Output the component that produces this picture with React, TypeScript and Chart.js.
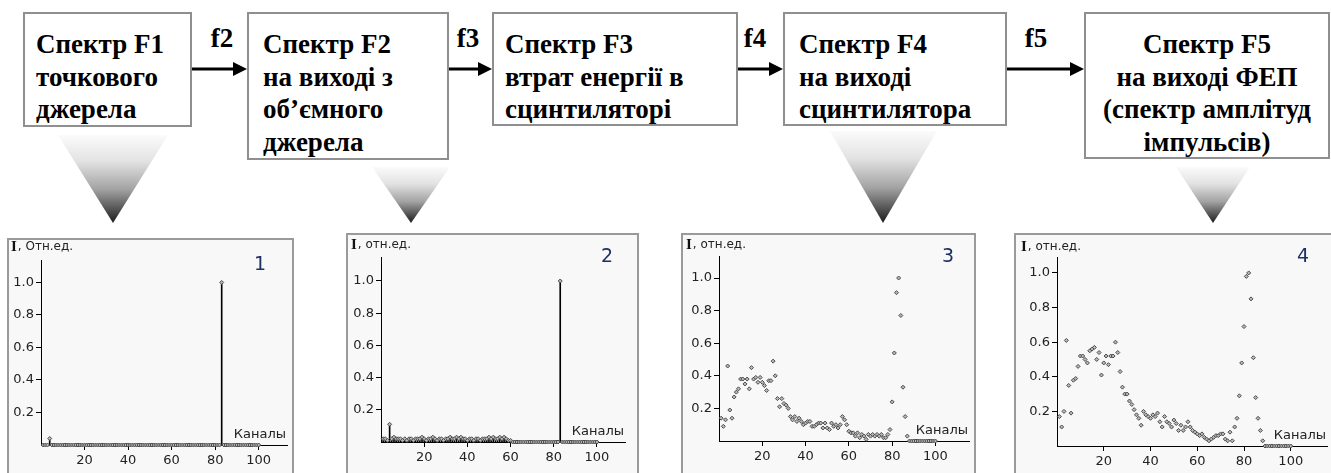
import React, { useEffect, useRef } from 'react';
import { Chart, registerables } from 'chart.js';

Chart.register(...registerables);

// ---------- DATA ----------
const channels = [
  1, 2, 3, 4, 5, 6, 7, 8, 9, 10,
  11, 12, 13, 14, 15, 16, 17, 18, 19, 20,
  21, 22, 23, 24, 25, 26, 27, 28, 29, 30,
  31, 32, 33, 34, 35, 36, 37, 38, 39, 40,
  41, 42, 43, 44, 45, 46, 47, 48, 49, 50,
  51, 52, 53, 54, 55, 56, 57, 58, 59, 60,
  61, 62, 63, 64, 65, 66, 67, 68, 69, 70,
  71, 72, 73, 74, 75, 76, 77, 78, 79, 80,
  81, 82, 83, 84, 85, 86, 87, 88, 89, 90,
  91, 92, 93, 94, 95, 96, 97, 98, 99, 100,
];

// Spectrum 1: point source
const spectrum1 = [
  0, 0, 0, 0.04, 0, 0, 0, 0, 0, 0,
  0, 0, 0, 0, 0, 0, 0, 0, 0, 0,
  0, 0, 0, 0, 0, 0, 0, 0, 0, 0,
  0, 0, 0, 0, 0, 0, 0, 0, 0, 0,
  0, 0, 0, 0, 0, 0, 0, 0, 0, 0,
  0, 0, 0, 0, 0, 0, 0, 0, 0, 0,
  0, 0, 0, 0, 0, 0, 0, 0, 0, 0,
  0, 0, 0, 0, 0, 0, 0, 0, 0, 0,
  0, 0, 1.0, 0, 0, 0, 0, 0, 0, 0,
  0, 0, 0, 0, 0, 0, 0, 0, 0, 0,
];

// Spectrum 2: volume source output
const spectrum2 = [
  0.02, 0.02, 0.01, 0.11, 0.02, 0.03, 0.02, 0.02, 0.02, 0.01,
  0.02, 0.01, 0.02, 0.02, 0.01, 0.02, 0.02, 0.02, 0.03, 0.02,
  0.01, 0.02, 0.02, 0.03, 0.02, 0.01, 0.02, 0.02, 0.01, 0.02,
  0.02, 0.03, 0.02, 0.02, 0.03, 0.02, 0.03, 0.02, 0.02, 0.01,
  0.02, 0.02, 0.01, 0.02, 0.02, 0.01, 0.02, 0.02, 0.02, 0.03,
  0.02, 0.03, 0.02, 0.02, 0.03, 0.02, 0.03, 0.02, 0.01, 0.01,
  0, 0, 0, 0, 0, 0, 0, 0, 0, 0,
  0, 0, 0, 0, 0, 0, 0, 0, 0, 0,
  0, 0, 1.0, 0, 0, 0, 0, 0, 0, 0,
  0, 0, 0, 0, 0, 0, 0, 0, 0, 0,
];

// Spectrum 3: scintillator output
const spectrum3 = [
  0.14, 0.09, 0.13, 0.46, 0.19, 0.14, 0.27, 0.30, 0.32, 0.38,
  0.38, 0.35, 0.38, 0.32, 0.45, 0.38, 0.39, 0.36, 0.39, 0.36,
  0.34, 0.31, 0.37, 0.37, 0.49, 0.40, 0.26, 0.21, 0.26, 0.23,
  0.22, 0.20, 0.15, 0.13, 0.15, 0.12, 0.14, 0.12, 0.10, 0.11,
  0.12, 0.12, 0.09, 0.09, 0.10, 0.11, 0.11, 0.08, 0.11, 0.08,
  0.07, 0.11, 0.09, 0.10, 0.08, 0.10, 0.15, 0.13, 0.10, 0.06,
  0.05, 0.05, 0.03, 0.05, 0.02, 0.04, 0.03, 0.01, 0.04, 0.03,
  0.04, 0.03, 0.04, 0.03, 0.04, 0.02, 0.02, 0.04, 0.07, 0.24,
  0.54, 0.91, 1.00, 0.77, 0.33, 0.15, 0.03, 0, 0, 0,
  0, 0, 0, 0, 0, 0, 0, 0, 0, 0,
];

// Spectrum 4: PMT output (pulse amplitude spectrum)
const spectrum4 = [
  0.17, 0.11, 0.20, 0.61, 0.35, 0.19, 0.38, 0.39, 0.46, 0.52,
  0.52, 0.50, 0.48, 0.55, 0.56, 0.57, 0.50, 0.54, 0.41, 0.48,
  0.52, 0.47, 0.52, 0.52, 0.60, 0.54, 0.43, 0.34, 0.30, 0.30,
  0.26, 0.24, 0.21, 0.18, 0.16, 0.12, 0.20, 0.18, 0.17, 0.16,
  0.18, 0.17, 0.19, 0.14, 0.11, 0.17, 0.14, 0.13, 0.11, 0.15,
  0.13, 0.09, 0.12, 0.09, 0.11, 0.14, 0.11, 0.09, 0.08, 0.07,
  0.06, 0.07, 0.05, 0.04, 0.03, 0.04, 0.05, 0.06, 0.06, 0.07,
  0.07, 0.04, 0.03, 0.08, 0.03, 0.11, 0.16, 0.29, 0.48, 0.69,
  0.98, 1.00, 0.85, 0.51, 0.28, 0.16, 0.09, 0.03, 0, 0,
  0, 0, 0, 0, 0, 0, 0, 0, 0, 0,
];

const yTicks = [0.2, 0.4, 0.6, 0.8, 1.0];
const xTicks = [20, 40, 60, 80, 100];
const panelNumbers = ['1', '2', '3', '4'];
const yUnits = ['Отн.ед.', 'отн.ед.', 'отн.ед.', 'отн.ед.'];
const yVar = 'I';
const xTitle = 'Каналы';

const blockLines = [
  ['Спектр F1', 'точкового', 'джерела'],
  ['Спектр F2', 'на виході з', 'об’ємного', 'джерела'],
  ['Спектр F3', 'втрат енергії в', 'сцинтиляторі'],
  ['Спектр F4', 'на виході', 'сцинтилятора'],
  ['Спектр F5', 'на виході ФЕП', '(спектр амплітуд', 'імпульсів)'],
];
const transferLabels = ['f2', 'f3', 'f4', 'f5'];

// ---------- LAYOUT (positions / styles) ----------
const SERIF = '"Liberation Serif", Tinos, "Times New Roman", serif';

const blockBoxes = [
  { left: 23, top: 12, width: 169, height: 115, align: 'left', pad: 11 },
  { left: 247, top: 12, width: 202, height: 148, align: 'left', pad: 14 },
  { left: 492, top: 12, width: 246, height: 114, align: 'left', pad: 11 },
  { left: 783, top: 12, width: 224, height: 114, align: 'left', pad: 14 },
  { left: 1084, top: 12, width: 246, height: 147, align: 'center', pad: 0 },
];
const arrowGeom = [
  { x1: 192, x2: 247, y: 69, lx: 222 },
  { x1: 449, x2: 492, y: 69, lx: 468 },
  { x1: 738, x2: 783, y: 69, lx: 755 },
  { x1: 1007, x2: 1084, y: 69, lx: 1036 },
];
const cones = [
  { x1: 58, x2: 168, top: 135, ax: 113, ay: 223 },
  { x1: 372, x2: 450, top: 167, ax: 411, ay: 223 },
  { x1: 830, x2: 937, top: 131, ax: 883, ay: 223 },
  { x1: 1176, x2: 1250, top: 167, ax: 1213, ay: 223 },
];

const panelLayouts = [
  { panel: { left: 7, top: 238, width: 287, height: 250 }, area: { l: 41, t: 260, r: 288, b: 445 }, xMax: 113, yMax: 1.138, title: { x: 11, y: 247 }, num: { x: 260, y: 265 } },
  { panel: { left: 346, top: 233, width: 293, height: 250 }, area: { l: 381, t: 257, r: 625, b: 442 }, xMax: 113, yMax: 1.149, title: { x: 351, y: 245 }, num: { x: 607, y: 257 } },
  { panel: { left: 681, top: 233, width: 295, height: 250 }, area: { l: 719, t: 256, r: 973, b: 441 }, xMax: 115.5, yMax: 1.135, title: { x: 686, y: 245 }, num: { x: 948, y: 257 } },
  { panel: { left: 1014, top: 233, width: 330, height: 250 }, area: { l: 1057, t: 257, r: 1327, b: 446 }, xMax: 115.5, yMax: 1.092, title: { x: 1021, y: 247 }, num: { x: 1303, y: 257 } },
];

const TICK_FONT = { family: 'DejaVu Sans', size: 13 };

function SpectrumPanel({ values, stems, index }: { values: number[]; stems: boolean; index: number }) {
  const ref = useRef<HTMLCanvasElement>(null);
  const lay = panelLayouts[index];
  const B = 2;
  const cl = lay.panel.left + B;
  const ct = lay.panel.top + B;
  const W = lay.panel.width - 2 * B;
  const H = lay.panel.height - 2 * B;

  useEffect(() => {
    if (!ref.current) return;
    const { area } = lay;
    const points = channels.map((c, i) => ({ x: c, y: values[i] }));
    const datasets: any[] = [];
    if (stems) {
      datasets.push({
        type: 'bar',
        data: points,
        barThickness: 1,
        backgroundColor: '#000',
        borderWidth: 0,
        clip: false,
        order: 2,
      });
    }
    datasets.push({
      type: 'scatter',
      data: points,
      pointStyle: 'rectRot',
      pointRadius: 2,
      pointBorderWidth: 1,
      pointBorderColor: '#4a4a4a',
      pointBackgroundColor: '#b8b8b8',
      showLine: false,
      clip: false,
      order: 1,
    });

    const overlay = {
      id: 'overlay' + index,
      afterDraw(chart: any) {
        const ctx = chart.ctx;
        const ca = chart.chartArea;
        ctx.save();
        const tx = lay.title.x - cl;
        const ty = lay.title.y - ct;
        ctx.textBaseline = 'middle';
        ctx.textAlign = 'left';
        ctx.fillStyle = '#111';
        ctx.font = `bold 15px ${SERIF}`;
        ctx.fillText(yVar, tx, ty);
        const w = ctx.measureText(yVar).width;
        ctx.font = '12px "DejaVu Sans"';
        ctx.fillStyle = '#222';
        ctx.fillText(', ' + yUnits[index], tx + w + 1, ty);
        ctx.font = '13px "DejaVu Sans"';
        ctx.textAlign = 'right';
        ctx.fillText(xTitle, ca.right - 1, ca.bottom - 10);
        ctx.textAlign = 'center';
        ctx.font = '19px "DejaVu Sans"';
        ctx.fillStyle = '#1d2f63';
        ctx.fillText(panelNumbers[index], lay.num.x - cl, lay.num.y - ct);
        ctx.restore();
      },
    };

    const axisCommon = {
      type: 'linear' as const,
      min: 0,
      offset: false,
      grid: { display: true, drawOnChartArea: false, drawTicks: true, tickLength: 5, color: '#000', offset: false },
      border: { display: true, color: '#000', width: 1 },
    };

    const chart = new Chart(ref.current, {
      type: 'bar',
      data: { datasets },
      options: {
        animation: false,
        responsive: false,
        events: [],
        layout: { padding: { left: 0, top: area.t - ct, right: W - (area.r - cl), bottom: 0 } },
        plugins: { legend: { display: false }, tooltip: { enabled: false } },
        scales: {
          x: {
            ...axisCommon,
            max: lay.xMax,
            afterBuildTicks: (s: any) => { s.ticks = xTicks.map((v) => ({ value: v })); },
            afterFit: (s: any) => { s.height = H - (area.b - ct); },
            ticks: { color: '#222', font: TICK_FONT, padding: 3, maxRotation: 0, autoSkip: false, callback: (v: any) => String(v) },
          },
          y: {
            ...axisCommon,
            max: lay.yMax,
            afterBuildTicks: (s: any) => { s.ticks = yTicks.map((v) => ({ value: v })); },
            afterFit: (s: any) => { s.width = area.l - cl; },
            ticks: { color: '#222', font: TICK_FONT, padding: 2, callback: (v: any) => Number(v).toFixed(1) },
          },
        },
      } as any,
      plugins: [overlay],
    });
    return () => chart.destroy();
  }, []);

  return (
    <div
      style={{
        position: 'absolute',
        left: lay.panel.left,
        top: lay.panel.top,
        width: lay.panel.width,
        height: lay.panel.height,
        border: `${B}px solid #9a9a9a`,
        boxSizing: 'border-box',
        background: '#f8f8f8',
      }}
    >
      <canvas ref={ref} width={W} height={H} style={{ display: 'block', width: W, height: H }} />
    </div>
  );
}

export default function App() {
  useEffect(() => {
    document.body.style.margin = '0';
  }, []);
  return (
    <div style={{ position: 'absolute', left: 0, top: 0, width: 1331, height: 473, overflow: 'hidden', background: '#fff' }}>
      <svg width={1331} height={473} style={{ position: 'absolute', left: 0, top: 0 }}>
        <defs>
          <linearGradient id="cone" x1="0" y1="0" x2="0" y2="1">
            <stop offset="0" stopColor="#fbfbfb" />
            <stop offset="0.3" stopColor="#e2e2e2" />
            <stop offset="0.62" stopColor="#a2a2a2" />
            <stop offset="1" stopColor="#1c1c1c" />
          </linearGradient>
        </defs>
        {cones.map((c, i) => (
          <polygon key={'c' + i} points={`${c.x1},${c.top} ${c.x2},${c.top} ${c.ax},${c.ay}`} fill="url(#cone)" />
        ))}
        {arrowGeom.map((a, i) => (
          <g key={'a' + i}>
            <line x1={a.x1} y1={a.y} x2={a.x2 - 12} y2={a.y} stroke="#000" strokeWidth={3} />
            <polygon points={`${a.x2},${a.y} ${a.x2 - 14},${a.y - 7} ${a.x2 - 14},${a.y + 7}`} fill="#000" />
            <text x={a.lx} y={47} textAnchor="middle" style={{ fontFamily: SERIF, fontWeight: 'bold', fontSize: 27 }} fill="#000">
              {transferLabels[i]}
            </text>
          </g>
        ))}
      </svg>
      {blockBoxes.map((b, i) => (
        <div
          key={'b' + i}
          style={{
            position: 'absolute',
            left: b.left,
            top: b.top,
            width: b.width,
            height: b.height,
            boxSizing: 'border-box',
            border: '2px solid #8f8f8f',
            background: '#fff',
            paddingTop: 14,
            paddingLeft: b.pad,
            textAlign: b.align as any,
            fontFamily: SERIF,
            fontWeight: 'bold',
            fontSize: 27,
            lineHeight: '32.5px',
            color: '#000',
            whiteSpace: 'nowrap',
          }}
        >
          {blockLines[i].map((ln, j) => (
            <div key={j}>{ln}</div>
          ))}
        </div>
      ))}
      <SpectrumPanel values={spectrum1} stems={true} index={0} />
      <SpectrumPanel values={spectrum2} stems={true} index={1} />
      <SpectrumPanel values={spectrum3} stems={false} index={2} />
      <SpectrumPanel values={spectrum4} stems={false} index={3} />
    </div>
  );
}
